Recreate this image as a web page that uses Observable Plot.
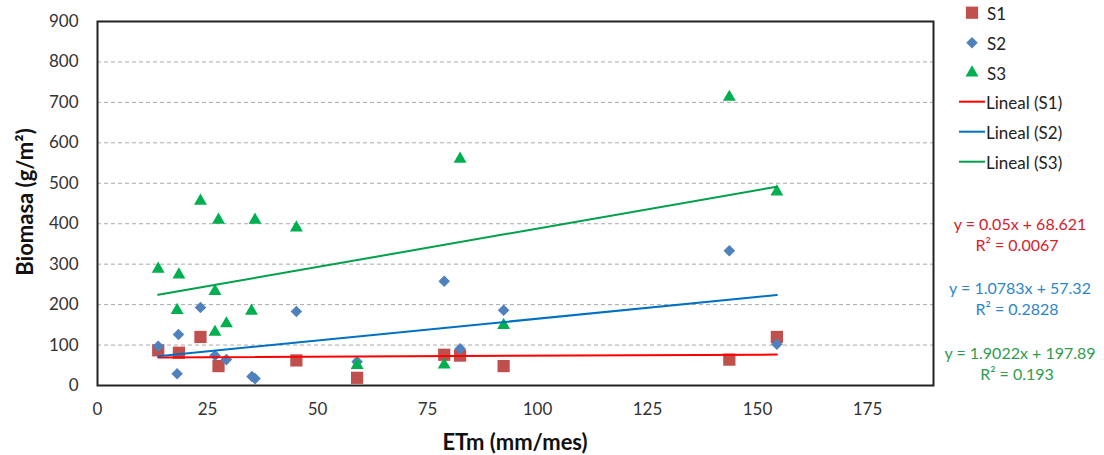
<!DOCTYPE html>
<html>
<head>
<meta charset="utf-8">
<script src="https://cdn.jsdelivr.net/npm/d3@7"></script>
<script src="https://cdn.jsdelivr.net/npm/@observablehq/plot@0.6"></script>
<style>
  html, body { margin: 0; padding: 0; background: #fff; overflow: hidden; }
  #wrap { position: relative; width: 1104px; height: 455px; font-family: Lato, "Open Sans", sans-serif; }
  .abs { position: absolute; white-space: nowrap; }
  .ytitle { left: 24px; top: 202px; transform: translate(-50%, -50%) rotate(-90deg); font-weight: 700; font-size: 22px; color: #111; }
  .xtitle { left: 515px; top: 441px; transform: translate(-50%, -50%); font-weight: 700; font-size: 22px; color: #111; }
  .leg { font-size: 17px; color: #222; transform: translateY(-50%); }
  .eq { font-size: 16px; transform: translate(-50%, -50%); }
</style>
</head>
<body>
<div id="wrap"></div>
<script>
// ---- data ----
const seriesNames = ["S1", "S2", "S3"];
const s1x = [13.8, 18.5, 23.4, 27.5, 45.2, 59.0, 78.8, 82.4, 92.3, 143.6, 154.4];
const s1y = [87, 81, 120, 48, 62, 19, 76, 74, 48, 64, 120];
const s2x = [13.8, 18.1, 18.4, 23.4, 26.7, 29.3, 35.1, 35.8, 45.2, 59.0, 78.8, 82.4, 92.3, 143.6, 154.4];
const s2y = [97, 29, 126, 193, 74, 64, 22, 17, 183, 59, 258, 91, 186, 333, 102];
const s3x = [13.8, 18.5, 18.1, 23.4, 26.7, 26.7, 27.5, 29.3, 35.0, 35.8, 45.2, 59.0, 78.8, 82.4, 92.3, 143.6, 154.4];
const s3y = [288, 274, 186, 456, 233, 132, 409, 153, 184, 409, 390, 50, 51, 560, 149, 713, 479];
const slopes = [0.05, 1.0783, 1.9022];
const intercepts = [68.621, 57.32, 197.89];
const eqTexts = ["y = 0.05x + 68.621", "y = 1.0783x + 57.32", "y = 1.9022x + 197.89"];
const r2Texts = ["R² = 0.0067", "R² = 0.2828", "R² = 0.193"];
const trendNames = ["Lineal (S1)", "Lineal (S2)", "Lineal (S3)"];
const xTicks = [0, 25, 50, 75, 100, 125, 150, 175];
const yTicks = [0, 100, 200, 300, 400, 500, 600, 700, 800, 900];
const gridVals = [100, 200, 300, 400, 500, 600, 700, 800];

// ---- styles ----
const markerColors = ["#C0504D", "#4F81BD", "#00B050"];
const markerSymbols = ["square", "diamond2", "triangle"];
const markerR = [6.9, 5.2, 4.8];
const trendColors = ["#FF0000", "#0070C0", "#00A04A"];
const eqColors = ["#D9212B", "#2E86C8", "#2E9C4E"];

const xs = [s1x, s2x, s3x], ys = [s1y, s2y, s3y];
const pts = xs.map((arr, i) => arr.map((x, j) => ({x, y: ys[i][j], s: seriesNames[i]})));
const trend = xs.map((arr, i) => {
  const lo = d3.min(arr), hi = d3.max(arr);
  return [lo, hi].map(x => ({x, y: slopes[i] * x + intercepts[i], s: seriesNames[i]}));
});

const chart = Plot.plot({
  width: 1104, height: 455,
  marginLeft: 97, marginRight: 171, marginTop: 21, marginBottom: 70,
  x: {domain: [0, 190]},
  y: {domain: [0, 900]},
  style: {fontFamily: "Lato, 'Open Sans', sans-serif", fontSize: "17px", color: "#333", background: "transparent"},
  marks: [
    Plot.ruleY(gridVals, {stroke: "#aaaaaa", strokeDasharray: "4,3", strokeWidth: 1}),
    Plot.axisY({ticks: yTicks, tickSize: 0, tickPadding: 19, label: null, fontSize: 17}),
    Plot.axisX({ticks: xTicks, tickSize: 0, tickPadding: 17, label: null, fontSize: 17}),
    ...pts.map((d, i) => Plot.dot(d, {x: "x", y: "y", symbol: () => markerSymbols[i], r: markerR[i], fill: markerColors[i], stroke: "none"})),
    ...trend.map((d, i) => Plot.line(d, {x: "x", y: "y", stroke: trendColors[i], strokeWidth: 2})),
    Plot.frame({stroke: "#222", strokeWidth: 2})
  ]
});

const wrap = document.getElementById("wrap");
wrap.appendChild(chart);

function addDiv(cls, text, left, top, color) {
  const d = document.createElement("div");
  d.className = "abs " + cls;
  d.textContent = text;
  d.style.left = left + "px";
  d.style.top = top + "px";
  if (color) d.style.color = color;
  wrap.appendChild(d);
  return d;
}
const yt = document.createElement("div"); yt.className = "abs ytitle"; yt.textContent = "Biomasa (g/m²)"; wrap.appendChild(yt);
const xt = document.createElement("div"); xt.className = "abs xtitle"; xt.textContent = "ETm (mm/mes)"; wrap.appendChild(xt);

// legend
const legSvg = d3.create("svg").attr("width", 60).attr("height", 180)
  .style("position", "absolute").style("left", "940px").style("top", "0px");
const symMap = {square: d3.symbolSquare, diamond2: d3.symbolDiamond2, triangle: d3.symbolTriangle};
seriesNames.forEach((n, i) => {
  legSvg.append("path")
    .attr("d", d3.symbol(symMap[markerSymbols[i]], markerR[i] * markerR[i] * Math.PI)())
    .attr("transform", `translate(32,${12.7 + 30 * i})`)
    .attr("fill", markerColors[i]);
  addDiv("leg", n, 987, 12.7 + 30 * i);
});
trendNames.forEach((n, i) => {
  legSvg.append("line").attr("x1", 19).attr("x2", 45)
    .attr("y1", 101.7 + 30 * i).attr("y2", 101.7 + 30 * i)
    .attr("stroke", trendColors[i]).attr("stroke-width", 2);
  addDiv("leg", n, 986, 101.7 + 30 * i);
});
wrap.appendChild(legSvg.node());

// equations
const eqY = [222.7, 287, 352];
eqTexts.forEach((t, i) => {
  addDiv("eq", t, 1020, eqY[i], eqColors[i]);
  addDiv("eq", r2Texts[i], 1017, eqY[i] + 21, eqColors[i]);
});
</script>
</body>
</html>
